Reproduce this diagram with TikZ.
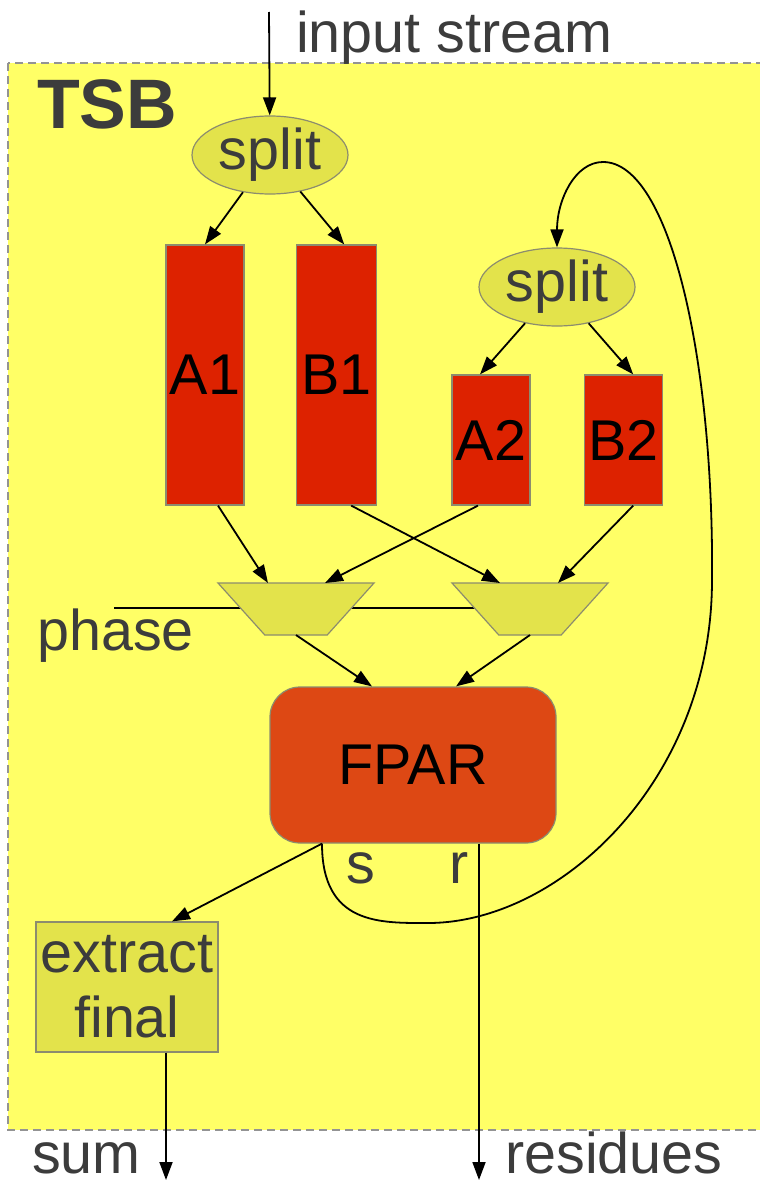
\documentclass[tikz,border=0pt]{standalone}
\usepackage{fontspec}
\setmainfont{Liberation Sans}
\usetikzlibrary{arrows.meta,positioning,shapes.geometric}

\definecolor{tsbyellow}{HTML}{FFFF66}
\definecolor{olive}{HTML}{E3E34B}
\definecolor{unitred}{HTML}{DD2200}
\definecolor{fparred}{HTML}{DD4814}
\definecolor{labelgray}{HTML}{3C3C3C}
\definecolor{edgegray}{HTML}{8C8C6E}

\newcommand{\bigfont}{\fontsize{57.5}{65}\selectfont}
\newcommand{\tsbfont}{\fontsize{70}{72}\selectfont\bfseries}

\tikzset{
  flow/.style={-{Triangle[length=18pt,width=13pt]}, line width=1.8pt},
  splitnode/.style={ellipse, draw=edgegray, line width=1.2pt, fill=olive,
    minimum width=156pt, minimum height=78pt, inner sep=0pt,
    text=labelgray, font=\bigfont},
  unit/.style={rectangle, draw=edgegray, line width=1.2pt, fill=unitred,
    minimum width=78pt, inner sep=0pt, font=\bigfont},
  mux/.style={trapezium, trapezium angle=53.13, shape border rotate=180,
    trapezium stretches=true,
    draw=edgegray, line width=1.2pt, fill=olive,
    minimum width=156pt, minimum height=52pt, inner sep=1pt},
  txt/.style={font=\bigfont, text=labelgray, inner sep=0pt},
}

\begin{document}
\begin{tikzpicture}[x=1pt,y=-1pt]
  \useasboundingbox (0,0) rectangle (760,1186);

  % block background
  \draw[draw=gray!85, dash pattern=on 8pt off 5pt, line width=1.8pt, fill=tsbyellow]
    (8,63) rectangle (775,1130);

  \coordinate (in) at (269,12);
  \coordinate (phasein) at (114,608);
  \coordinate (phaseend) at (480,608);
  \coordinate (sumout) at (166,1180);
  \coordinate (resout) at (479,1180);

  % phase line runs behind the muxes
  \draw[line width=1.6pt] (phasein) -- (phaseend);

  % labels
  \node[txt, anchor=base west] (instream) at (296,52) {input stream};
  \node[txt, anchor=base west, font=\tsbfont] (tsb) at (37,128) {TSB};
  \node[txt, anchor=base west] (phase) at (37,650) {phase};
  \node[txt, anchor=base west] (sum) at (32,1173) {sum};
  \node[txt, anchor=base west] (residues) at (505,1173) {residues};

  % units
  \node[splitnode] (split1) at (270,155) {split};
  \node[unit, minimum height=260pt] (A1) at (205,375) {A1};
  \node[unit, minimum height=260pt, minimum width=80pt, right=51pt of A1] (B1) {B1};
  \node[splitnode] (split2) at (557,287) {split};
  \node[unit, minimum height=130pt] (A2) at (491,440) {A2};
  \node[unit, minimum height=130pt, right=53pt of A2] (B2) {B2};

  \node[mux] (lmux) at (296,609) {};
  \node[mux] (rmux) at (530,609) {};

  \node[rectangle, rounded corners=30pt, draw=edgegray, line width=1.2pt, fill=fparred,
    minimum width=286pt, minimum height=156pt, font=\bigfont] (fpar) at (413,765) {FPAR};
  \node[rectangle, draw=edgegray, line width=1.2pt, fill=olive, align=center,
    minimum width=182pt, minimum height=130pt, inner sep=0pt,
    text=labelgray, font=\bigfont] (extract) at (127,987) {extract\\final};

  \node[txt, anchor=base] (slabel) at (361,883) {s};
  \node[txt, anchor=base] (rlabel) at (459,883) {r};

  % splitting
  \draw[flow] (in) -- (split1);
  \draw[flow] (split1) -- (A1.north);
  \draw[flow] (split1) -- ([xshift=8pt]B1.north);
  \draw[flow] (split2) -- ([xshift=-11pt]A2.north);
  \draw[flow] (split2) -- ([xshift=10pt]B2.north);

  % into the muxes
  \foreach \src/\dx/\dst/\ex in {A1/13/lmux/-28, A2/-13/lmux/29, B1/15/rmux/-30, B2/10/rmux/28}
    \draw[flow] ([xshift=\dx pt]\src.south) -- ([xshift=\ex pt,yshift=26pt]\dst.center);
  \draw[flow] ([yshift=-26pt]lmux.center) -- ([xshift=-41pt]fpar.north);
  \draw[flow] ([yshift=-26pt]rmux.center) -- ([xshift=43pt]fpar.north);

  % outputs
  \draw[flow] ([xshift=-91pt]fpar.south) -- ([xshift=45pt]extract.north);
  \draw[flow] ([xshift=66pt]fpar.south) -- (resout);
  \draw[flow] ([xshift=39pt]extract.south) -- (sumout);

  % feedback of s into the second split
  \draw[flow] ([xshift=-91pt]fpar.south) .. controls (322,925) and (380,923) .. (428,923)
    .. controls (560,923) and (712,780) .. (712,580)
    .. controls (714,360) and (670,162) .. (603,162)
    .. controls (575,162) and (557,200) .. (split2.north);
\end{tikzpicture}
\end{document}
